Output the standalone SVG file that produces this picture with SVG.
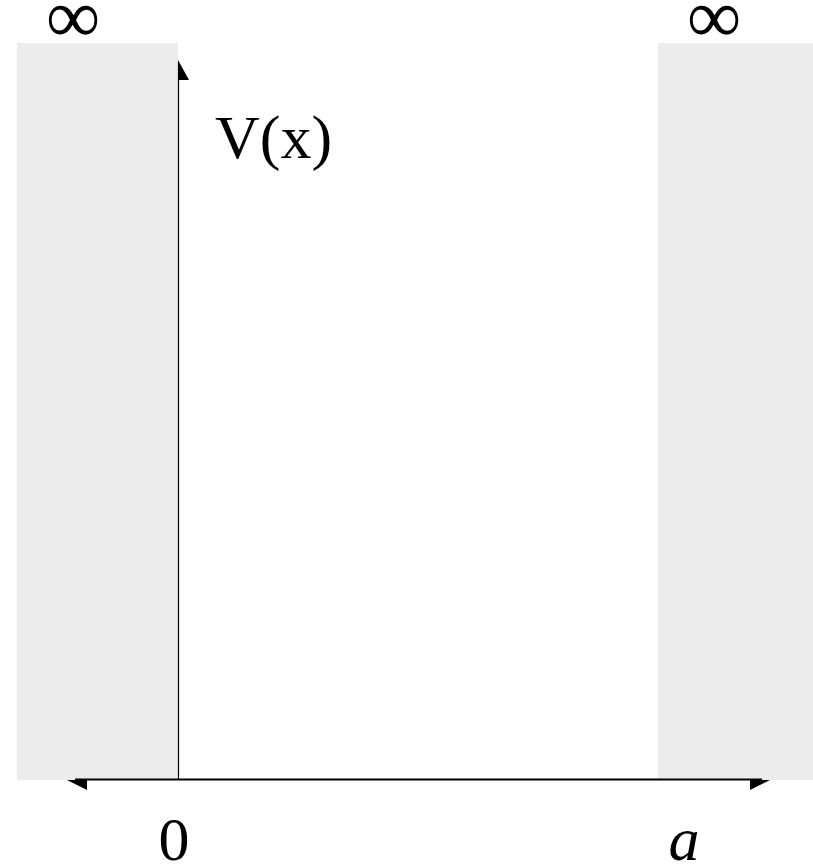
<svg xmlns="http://www.w3.org/2000/svg" width="813" height="865" viewBox="0 0 813 865">
<style>
.wall{fill:#ececec}
.lbl{font-family:"Liberation Serif","Times New Roman",serif;fill:#000}
.inf{font-family:"Liberation Serif","Times New Roman",serif;fill:#000;font-size:76px}
.ax{stroke:#000;fill:none}
.head{fill:#000}
</style>
<rect width="813" height="865" fill="#fff"/>
<g id="wall-left"><rect class="wall" x="17" y="43" width="161" height="737"/><text class="inf" x="73" y="42" text-anchor="middle">∞</text></g>
<g id="wall-right"><rect class="wall" x="658" y="43" width="155" height="737"/><text class="inf" x="714" y="42" text-anchor="middle">∞</text></g>
<g id="connectors">
<line class="ax" x1="178.5" y1="780" x2="178.5" y2="62" stroke-width="1.2"/>
<polygon class="head" points="178,60 189,80 178,80"/>
<line class="ax" x1="75" y1="779.5" x2="762" y2="779.5" stroke-width="2"/>
<polygon class="head" points="67,780 87,780 87,790"/>
<polygon class="head" points="770,780 750,780 750,790"/>
</g>
<g id="label-v"><text class="lbl" x="215" y="158" font-size="62">V(x)</text></g>
<g id="label-0"><text class="lbl" x="174" y="860" font-size="62" text-anchor="middle">0</text></g>
<g id="label-a"><text class="lbl" x="684" y="860" font-size="62" font-style="italic" text-anchor="middle">a</text></g>
</svg>
